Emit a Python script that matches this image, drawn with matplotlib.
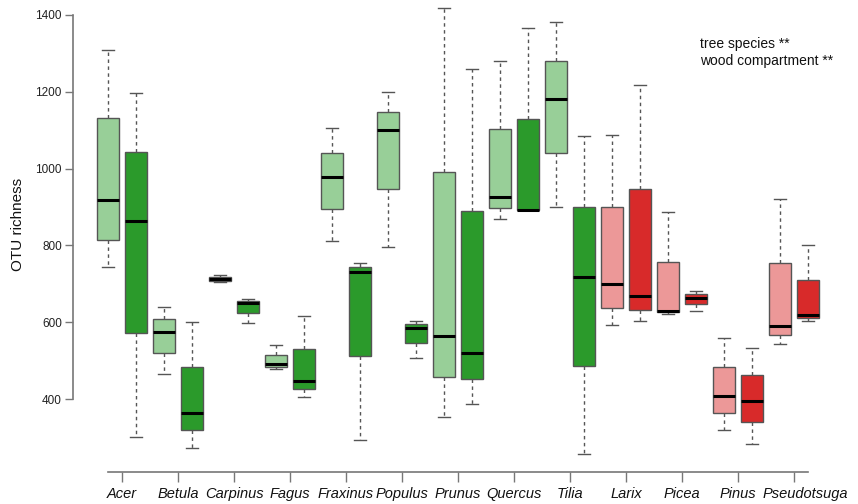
"""OTU richness per tree species and wood compartment, drawn as paired boxplots."""

import matplotlib
matplotlib.use("Agg")
import matplotlib.pyplot as plt
import matplotlib.transforms as mtransforms

species = ["Acer", "Betula", "Carpinus", "Fagus", "Fraxinus", "Populus", "Prunus",
           "Quercus", "Tilia", "Larix", "Picea", "Pinus", "Pseudotsuga"]
conifers = ["Larix", "Picea", "Pinus", "Pseudotsuga"]

# five-number summaries, two boxes per species (first compartment, then second)
whisker_low = [743, 302, 465, 273, 705, 597, 478, 404, 811, 293, 795, 506, 352,
               387, 869, 891, 901, 257, 592, 602, 621, 629, 319, 284, 543, 604]
q1 = [814, 571, 521, 319, 708, 623, 484, 425, 894, 513, 947, 545, 458,
      453, 897, 891, 1041, 487, 638, 632, 626, 647, 363, 339, 567, 612]
median = [917, 864, 575, 364, 712, 651, 490, 448, 978, 732, 1100, 585, 565,
          519, 925, 891, 1181, 718, 699, 669, 630, 662, 407, 395, 590, 619]
q3 = [1132, 1043, 608, 483, 717, 656, 515, 531, 1041, 743, 1148, 595, 991,
      890, 1103, 1130, 1281, 901, 901, 947, 758, 673, 483, 463, 755, 710]
whisker_high = [1309, 1198, 640, 601, 723, 660, 541, 616, 1105, 753, 1199, 604, 1417,
                1259, 1281, 1367, 1381, 1085, 1087, 1217, 887, 681, 558, 532, 920, 800]

GREENS = ("#98cf98", "#2b9a2b")
REDS = ("#ec9898", "#d82a2a")
EDGE = "#555555"

plt.rcParams["font.family"] = ["Liberation Sans", "DejaVu Sans"]

fig = plt.figure(figsize=(8.58, 5.04), dpi=100)
ax = fig.add_axes([73 / 858, 1 - 472 / 504, (836 - 73) / 858, (472 - 7.3) / 504])

stats = [dict(whislo=whisker_low[i], q1=q1[i], med=median[i], q3=q3[i],
              whishi=whisker_high[i], fliers=[]) for i in range(len(median))]
positions = list(range(1, len(stats) + 1))

bp = ax.bxp(stats, positions=positions, widths=0.8, capwidths=0.4,
            patch_artist=True, showfliers=False,
            boxprops=dict(edgecolor=EDGE, linewidth=1),
            medianprops=dict(color="black", linewidth=2.2, solid_capstyle="butt"),
            whiskerprops=dict(color=EDGE, linewidth=1, linestyle=(0, (2.5, 2.5))),
            capprops=dict(color=EDGE, linewidth=1))

for i, box in enumerate(bp["boxes"]):
    pal = REDS if species[i // 2] in conifers else GREENS
    box.set_facecolor(pal[i % 2])

ax.set_xlim(-0.25, 27)
ax.set_ylim(210, 1420)
ax.set_xticks([1.5 + 2 * k for k in range(len(species))])
ax.set_xticklabels(species, fontstyle="italic", fontsize=10.5, color="#111111")
ax.set_yticks(range(400, 1401, 200))
ax.set_yticklabels([str(v) for v in range(400, 1401, 200)], fontsize=8.5, color="#222222")
ax.tick_params(axis="y", length=6, width=1, color="#777777", pad=2)
ax.tick_params(axis="x", length=7, width=1, color="#777777", pad=4)

# the last name is long, nudge it right so it clears "Pinus"
last = ax.get_xticklabels()[-1]
last.set_transform(last.get_transform() +
                   mtransforms.ScaledTranslation(11 / 100, 0, fig.dpi_scale_trans))

for side in ("top", "right"):
    ax.spines[side].set_visible(False)
ax.spines["left"].set_bounds(400, 1400)
ax.spines["bottom"].set_bounds(1, 26)
for side in ("left", "bottom"):
    ax.spines[side].set_color("#777777")
    ax.spines[side].set_linewidth(1.2)

fig.text(18 / 858, 1 - 224 / 504, "OTU richness", rotation=90, fontsize=11,
         ha="center", va="center", color="#111111")
fig.text(700 / 858, 1 - 48 / 504, "tree species **", fontsize=10, va="baseline", color="#111111")
fig.text(700 / 858, 1 - 65 / 504, "wood compartment **", fontsize=10, va="baseline", color="#111111")

fig.savefig("out.png", dpi=100)
plt.close(fig)
